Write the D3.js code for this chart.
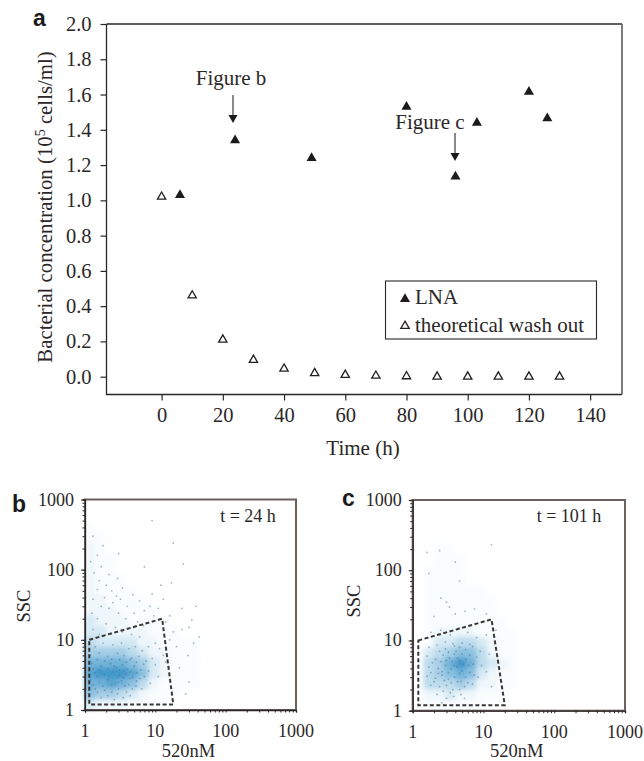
<!DOCTYPE html>
<html>
<head>
<meta charset="utf-8">
<script src="https://cdn.jsdelivr.net/npm/d3@7"></script>
<style>
html, body { margin: 0; padding: 0; background: #fff; }
text { font-family: "Liberation Serif", serif; fill: #2b2728; }
.letter { font-family: "Liberation Sans", sans-serif; font-weight: bold; fill: #1c1a1a; }
</style>
</head>
<body>
<div id="chart"></div>
<script>
// panel a
var lnaTime = [6, 24, 49, 80, 96, 103, 120, 126];
var lnaConc = [1.03, 1.34, 1.24, 1.53, 1.135, 1.44, 1.615, 1.465];
var washTime = [0, 10, 20, 30, 40, 50, 60, 70, 80, 90, 100, 110, 120, 130];
var washConc = [1.02, 0.46, 0.21, 0.095, 0.045, 0.02, 0.01, 0.005, 0.002, 0, 0, 0, 0, 0];
var timeTicks = [0, 20, 40, 60, 80, 100, 120, 140];
var concTicks = [0, 0.2, 0.4, 0.6, 0.8, 1.0, 1.2, 1.4, 1.6, 1.8, 2.0];

// panels b and c: density, rows top to bottom, columns left to right
var logTicks = [1, 10, 100, 1000];
var binSize = 0.15; // decades
var densityB = [
  [1,0,0,0,0,0,0,0,0,0,0,0],
  [1,1,0,0,0,0,0,0,0,0,0,0],
  [2,1,0,0,0,0,0,0,0,0,0,0],
  [2,1,1,0,0,0,0,0,0,0,0,0],
  [2,1,1,0,0,0,0,0,0,0,0,0],
  [2,1,1,1,0,0,0,0,0,0,0,0],
  [2,1,1,1,1,0,0,0,0,0,0,0],
  [2,2,1,1,1,1,0,0,0,0,0,0],
  [2,2,2,1,1,1,1,0,0,0,0,0],
  [3,2,2,2,1,1,1,1,0,0,0,0],
  [3,3,2,2,2,2,1,1,1,0,0,0],
  [4,3,3,3,3,2,2,1,1,1,1,0],
  [5,5,5,5,4,3,2,2,1,1,1,0],
  [7,7,7,7,6,5,3,2,1,1,1,0],
  [8,9,9,9,8,6,3,2,1,1,1,0],
  [7,7,8,7,6,4,2,1,1,1,1,0],
  [6,5,5,4,3,2,1,1,1,0,0,0],
  [3,2,2,2,1,1,1,1,0,0,0,0]
];
var densityC = [
  [0,0,0,0,0,0,0,0,0,0,0,0],
  [0,0,0,0,0,0,0,0,0,0,0,0],
  [0,0,1,1,0,0,0,0,0,0,0,0],
  [0,0,1,1,1,0,0,0,0,0,0,0],
  [0,1,1,1,1,0,0,0,0,0,0,0],
  [0,1,1,1,1,0,0,0,0,0,0,0],
  [0,1,1,1,1,1,1,0,0,0,0,0],
  [0,1,1,1,1,1,1,1,0,0,0,0],
  [0,1,1,1,1,1,1,1,0,0,0,0],
  [0,1,1,1,1,1,1,1,1,0,0,0],
  [0,1,2,2,2,2,1,1,1,1,0,0],
  [0,1,3,3,4,4,3,2,1,1,0,0],
  [0,3,4,5,6,6,4,2,1,1,0,0],
  [0,4,5,7,9,7,4,3,2,1,0,0],
  [0,4,5,6,7,6,3,2,1,1,0,0],
  [0,4,4,4,5,4,2,2,1,1,0,0],
  [0,2,2,3,2,2,1,1,1,0,0,0],
  [0,1,1,1,1,1,1,0,0,0,0,0]
];
var gateB = [[1.15, 10], [12.5, 20], [18, 1.2], [1.15, 1.2]];
var gateC = [[1.2, 10], [13, 20], [20, 1.2], [1.2, 1.2]];
var dotsB = [
  [1.3,300],[1.5,160],[1.2,130],[1.8,220],[9,500],[7,110],[3,170],[18,240],[25,120],[12,60],
  [1.6,70],[2,60],[2.4,50],[1.9,40],[2.8,42],[3.4,55],[1.3,38],[4,30],[6,36],[9,45],[13,38],[17,65],
  [2.2,28],[3,24],[3.8,20],[5,24],[7,26],[9.5,22],[1.5,20],[2,17],[2.7,15],[1.3,14],[16,22],[24,28],[30,15],[38,30],
  [1.4,8],[1.8,9],[2.5,8.5],[3.3,9],[4.2,7.5],[5.2,8],[6.5,7],[8,8],[10,9],[1.2,6],[1.6,6.5],[2.1,5.8],[2.9,6.4],[3.6,6],[4.6,5.5],[5.8,5.8],[7.4,5],[9,5.4],
  [1.25,4.6],[1.7,4.2],[2.3,4.6],[2.8,4],[3.4,4.4],[4,3.8],[5,4.2],[6.2,3.7],[8,3.6],[1.4,3.4],[1.9,3.2],[2.5,3.5],[3.1,3.1],[3.8,3.3],[4.7,2.9],[6,2.8],
  [1.2,2.7],[1.6,2.5],[2.1,2.7],[2.7,2.4],[3.3,2.6],[4.2,2.3],[5.3,2.2],[1.4,2],[1.9,1.9],[2.4,1.8],[3,2],[3.9,1.8],[1.7,1.5],[2.6,1.4],[3.5,1.5],[11,3],[13,6],[16,10],[20,8],[24,14],[29,6],[35,9],[42,11],[22,4],[30,2.5],[27,1.7],
  [1.35,90],[1.7,110],[2.2,85],[2.9,75],[1.5,52],[2.5,34],[3.2,38],[1.7,30],[4.8,44],[5.6,18],[6.8,16],[8.4,30],[11,28],[14,18],[1.25,24],[2.3,12],[3.4,13],[4.6,12],[6,11],[1.6,12],
  [1.5,5.2],[1.9,5],[2.4,5.3],[3.1,5.2],[3.9,4.8],[4.4,5.2],[5.4,4.8],[6.8,4.5],[1.3,3.9],[1.6,3.7],[2.1,3.9],[2.6,4.2],[3.1,3.7],[3.6,3.6],[4.4,3.5],[5.5,3.4],[7,3],[1.5,3],[2.2,3],[2.9,2.9],[3.5,2.9],[4.3,2.8],[5.4,2.6],[1.3,2.3],[1.8,2.2],[2.4,2.3],[3,2.5],[3.7,2.2],[4.7,2],[6.4,2],[1.5,1.8],[2.1,1.6],[2.9,1.7],[4.4,1.6],[8.5,2.4],[10,4.4],[11.5,7.5],[14,4.8],[18,13],[33,19]
];
var dotsC = [
  [13,230],[1.6,180],[2.4,190],[4,130],[2.5,40],[3,35],[3.3,30],[1.7,90],[4.6,70],[5.5,26],[7.5,28],[11,24],[2,22],[4,24],
  [1.8,13],[2.5,14],[3.4,12],[4.5,15],[6,13],[8,11],[11,12],[15,14],[1.7,8],[2.2,8.6],[2.9,7.6],[3.7,9],[4.6,8],[5.6,7.4],[7,8.2],[9,7],[12,6.4],
  [1.6,6],[2.1,5.4],[2.7,6.2],[3.3,5.6],[3.9,6.4],[4.6,5.2],[5.6,5.4],[7.2,4.6],[9.4,4.4],[1.7,4.2],[2.3,4],[2.9,4.4],[3.5,3.9],[4.2,4.2],[5,3.7],[6.4,3.5],[8.4,3],[11,3.6],
  [1.6,3.1],[2.1,2.9],[2.6,3.2],[3.2,2.8],[3.9,3],[4.8,2.6],[6,2.5],[1.8,2.3],[2.4,2.2],[3,2.3],[3.7,2],[4.6,2],[2.2,1.7],[3,1.5],[3.8,1.6],[5.4,1.5],[2.6,1.3],[13,2.2],
  [2.9,9.5],[3.9,8.4],[5,9.2],[6.4,8.8],[2.4,7],[3.2,6.8],[4.1,7],[5,6.4],[6.4,6.2],[8,5.8],[2.5,5],[3,5.2],[3.6,5],[4.3,5.6],[5.2,4.6],[6.2,4.4],[1.9,4.8],[2.6,3.6],[3.2,3.5],[3.8,4.4],[4.6,3.4],[5.6,3],[7.4,3.2],[1.8,3.5],[2.3,3.4],[2.8,2.7],[3.5,2.5],[4.3,2.6],[5.4,2.2],[7,2.4],[2,2.6],[2.7,1.9],[3.4,1.8],[4.8,1.7]
];

var svg = d3.select("#chart").append("svg").attr("width", 644).attr("height", 761);

var x = d3.scaleLinear().domain([-18, 150.4]).range([106.5, 622]);
var y = d3.scaleLinear().domain([-0.101, 2.0]).range([394.5, 24]);

var xAxis = svg.append("g")
    .attr("transform", "translate(0,394.5)")
    .call(d3.axisBottom(x).tickValues(timeTicks).tickSize(6).tickPadding(7).tickFormat(d3.format("d")));
var yAxis = svg.append("g")
    .attr("transform", "translate(106.5,0)")
    .call(d3.axisLeft(y).tickValues(concTicks).tickSize(6).tickPadding(9).tickFormat(d3.format(".1f")));
[xAxis, yAxis].forEach(function(a) {
    a.select(".domain").remove();
    a.selectAll("line").attr("stroke", "#2b2728").attr("stroke-width", 1.2);
    a.selectAll("text").style("font-family", "Liberation Serif").style("font-size", "20.5px").attr("fill", "#2b2728");
});

// frame, right edge is lighter in the original
svg.append("path").attr("d", "M106.5,24V394.5H622").attr("fill", "none").attr("stroke", "#2b2728").attr("stroke-width", 1.3);
svg.append("path").attr("d", "M106.5,24H622").attr("fill", "none").attr("stroke", "#2b2728").attr("stroke-width", 1.3);
svg.append("path").attr("d", "M622,24V394.5").attr("fill", "none").attr("stroke", "#6e6e6e").attr("stroke-width", 1.8);

var triangle = d3.symbol().type(d3.symbolTriangle);

svg.selectAll("path.wash")
    .data(washTime)
    .enter().append("path")
    .attr("class", "wash")
    .attr("d", triangle.size(30)())
    .attr("transform", function(d, i) { return "translate(" + x(d) + "," + y(washConc[i]) + ")"; })
    .attr("fill", "#fff")
    .attr("stroke", "#231f20")
    .attr("stroke-width", 1.3);

svg.selectAll("path.lna")
    .data(lnaTime)
    .enter().append("path")
    .attr("class", "lna")
    .attr("d", triangle.size(44)())
    .attr("transform", function(d, i) { return "translate(" + x(d) + "," + y(lnaConc[i]) + ")"; })
    .attr("fill", "#1c1a1a");

// annotations
function arrow(px, y1, y2) {
    svg.append("line").attr("x1", px).attr("x2", px).attr("y1", y1).attr("y2", y2 - 6)
        .attr("stroke", "#2b2728").attr("stroke-width", 1.1);
    svg.append("path").attr("d", "M" + (px - 4.5) + "," + (y2 - 8) + "H" + (px + 4.5) + "L" + px + "," + y2 + "Z")
        .attr("fill", "#1c1a1a");
}
svg.append("text").attr("x", 231).attr("y", 85).attr("text-anchor", "middle").style("font-size", "21px").text("Figure b");
arrow(233, 95, 123);
svg.append("text").attr("x", 430).attr("y", 129).attr("text-anchor", "middle").style("font-size", "21px").text("Figure c");
arrow(455, 133, 161);

svg.append("text")
    .attr("transform", "translate(52,207)rotate(-90)")
    .attr("text-anchor", "middle")
    .style("font-size", "20.8px")
    .call(function(t) {
        t.append("tspan").text("Bacterial concentration (10");
        t.append("tspan").attr("dy", -7).style("font-size", "14px").text("5");
        t.append("tspan").attr("dy", 7).text(" cells/ml)");
    });
svg.append("text").attr("x", 363).attr("y", 455).attr("text-anchor", "middle").style("font-size", "21px").text("Time (h)");

// legend
svg.append("rect").attr("x", 385.5).attr("y", 281).attr("width", 211).attr("height", 58)
    .attr("fill", "#fff").attr("stroke", "#2b2728").attr("stroke-width", 1.1);
svg.append("path").attr("d", triangle.size(44)()).attr("transform", "translate(405,299)").attr("fill", "#1c1a1a");
svg.append("path").attr("d", triangle.size(30)()).attr("transform", "translate(405,326)").attr("fill", "#fff").attr("stroke", "#231f20").attr("stroke-width", 1.3);
svg.append("text").attr("x", 415).attr("y", 304).style("font-size", "21px").text("LNA");
svg.append("text").attr("x", 415).attr("y", 332).style("font-size", "21px").text("theoretical wash out");

// panel letters
svg.append("text").attr("class", "letter").attr("x", 33).attr("y", 26).style("font-size", "23px").text("a");
svg.append("text").attr("class", "letter").attr("x", 12).attr("y", 512).style("font-size", "23px").text("b");
svg.append("text").attr("class", "letter").attr("x", 342).attr("y", 506).style("font-size", "23px").text("c");

// soft blur for the density cells
svg.append("defs").append("filter").attr("id", "soft")
    .attr("x", "-10%").attr("y", "-10%").attr("width", "120%").attr("height", "120%")
    .append("feGaussianBlur").attr("stdDeviation", 2.8);

var densityColor = d3.scaleLinear().domain([0, 1, 2, 9]).range(["#ffffff", "#fafdfe", "#eff7fb", "#3f97cb"]);

function flowPanel(left, right, top, bottom, density, dots, gate, label, labelX, ssc) {
    var fx = d3.scaleLog().domain([1, 1000]).range([left, right]);
    var fy = d3.scaleLog().domain([1, 1000]).range([bottom, top]);
    var g = svg.append("g");

    var rows = density.length;
    var cells = g.append("g").attr("filter", "url(#soft)");
    density.forEach(function(row, r) {
        row.forEach(function(v, c) {
            if (!v) return;
            var x0 = fx(Math.pow(10, c * binSize));
            var x1 = fx(Math.pow(10, (c + 1) * binSize));
            var y0 = fy(Math.pow(10, (rows - r) * binSize));
            var y1 = fy(Math.pow(10, (rows - r - 1) * binSize));
            cells.append("rect").attr("x", x0).attr("y", y0)
                .attr("width", x1 - x0 + 0.5).attr("height", y1 - y0 + 0.5)
                .attr("fill", densityColor(v));
        });
    });

    g.selectAll("circle").data(dots).enter().append("circle")
        .attr("cx", function(d) { return fx(d[0]); })
        .attr("cy", function(d) { return fy(d[1]); })
        .attr("r", 0.9)
        .attr("fill", "#4a6f8c")
        .attr("opacity", 0.5);

    g.append("path")
        .attr("d", d3.line().x(function(d) { return fx(d[0]); }).y(function(d) { return fy(d[1]); }).curve(d3.curveLinearClosed)(gate))
        .attr("fill", "none").attr("stroke", "#3a3635").attr("stroke-width", 2).attr("stroke-dasharray", "4,2.5");

    g.append("rect").attr("x", left).attr("y", top).attr("width", right - left).attr("height", bottom - top)
        .attr("fill", "none").attr("stroke", "#6b625e").attr("stroke-width", 2);

    // minor ticks along both axes
    var minor = fx.ticks();
    var ax = g.append("g").attr("transform", "translate(0," + bottom + ")")
        .call(d3.axisBottom(fx).tickValues(minor).tickSize(2.5).tickFormat(""));
    var ay = g.append("g").attr("transform", "translate(" + left + ",0)")
        .call(d3.axisLeft(fy).tickValues(minor).tickSize(2.5).tickFormat(""));
    [ax, ay].forEach(function(a) {
        a.select(".domain").attr("stroke", "#2b2728").attr("stroke-width", 1.3);
        a.selectAll("line").attr("stroke", "#2b2728");
    });
    g.append("g").attr("transform", "translate(" + left + ",0)")
        .call(d3.axisLeft(fy).tickValues(logTicks).tickSize(4).tickFormat(""))
        .call(function(a) { a.select(".domain").remove(); a.selectAll("line").attr("stroke", "#2b2728"); });

    g.selectAll("text.ytick").data(logTicks).enter().append("text")
        .attr("class", "ytick")
        .attr("x", left - 11).attr("y", function(d) { return fy(d) + 6; })
        .attr("text-anchor", "end").style("font-size", "18px")
        .text(function(d) { return d; });
    g.selectAll("text.xtick").data(logTicks).enter().append("text")
        .attr("class", "xtick")
        .attr("x", function(d) { return fx(d); }).attr("y", bottom + 27)
        .attr("text-anchor", "middle").style("font-size", "18px")
        .text(function(d) { return d; });

    g.append("text").attr("x", (left + right) / 2 - 2).attr("y", 756.5)
        .attr("text-anchor", "middle").style("font-size", "18.5px").text("520nM");
    g.append("text").attr("transform", "translate(" + ssc[0] + "," + ssc[1] + ")rotate(-90)")
        .attr("text-anchor", "middle").style("font-size", "18.5px").text("SSC");
    g.append("text").attr("x", labelX).attr("y", top + 22)
        .attr("text-anchor", "middle").style("font-size", "18px").text(label);
}

flowPanel(85, 296, 499.5, 710, densityB, dotsB, gateB, "t = 24 h", 248, [30, 606]);
flowPanel(412.7, 625, 500, 710.7, densityC, dotsC, gateC, "t = 101 h", 569, [359.5, 601]);
</script>
</body>
</html>
